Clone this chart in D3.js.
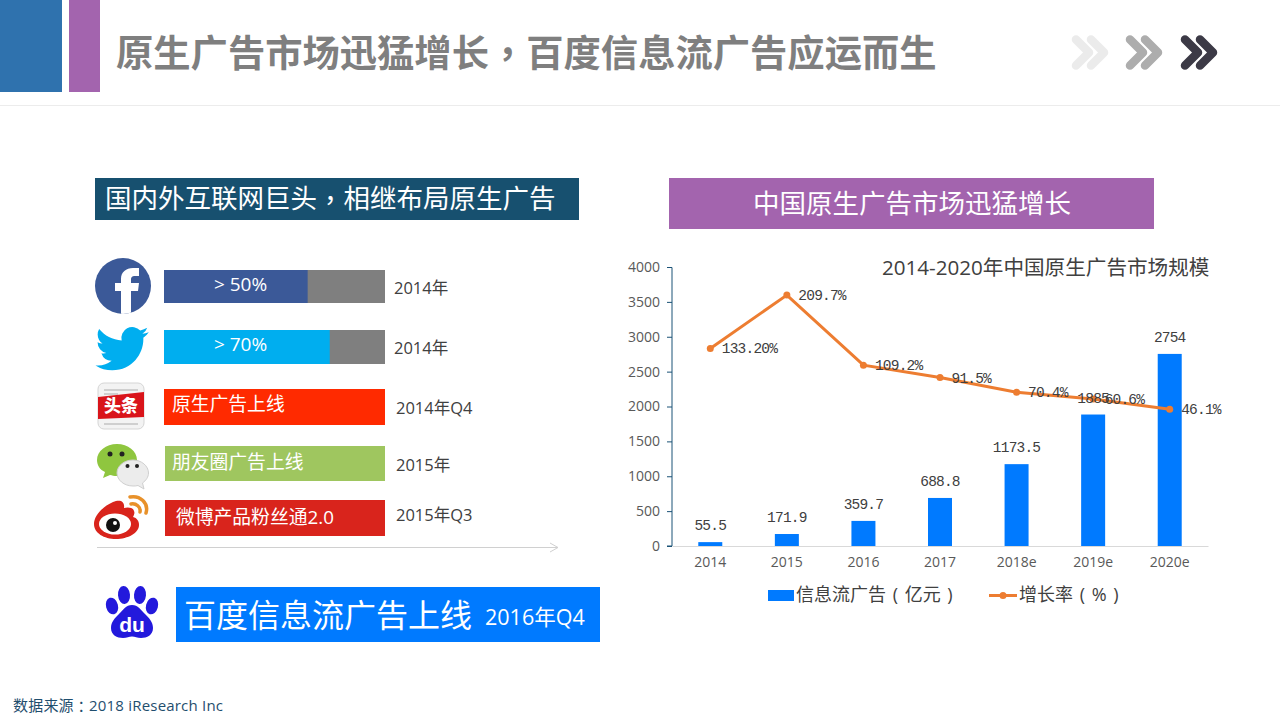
<!DOCTYPE html>
<html><head><meta charset="utf-8">
<script src="https://cdn.jsdelivr.net/npm/d3@7/dist/d3.min.js"></script>
<style>html,body{margin:0;padding:0;background:#fff;overflow:hidden}svg{display:block}svg{font-family:"Open Sans","Noto Sans CJK SC",sans-serif}</style>
</head><body><svg id="c" width="1280" height="720"></svg>
<script>
const years=["2014","2015","2016","2017","2018e","2019e","2020e"];
const market=[55.5,171.9,359.7,688.8,1173.5,1885,2754];
const marketLabels=["55.5","171.9","359.7","688.8","1173.5","1885","2754"];
const growth=[133.2,209.7,109.2,91.5,70.4,60.6,46.1];
const growthLabels=["133.20%","209.7%","109.2%","91.5%","70.4%","60.6%","46.1%"];
const leftTicks=[0,500,1000,1500,2000,2500,3000,3500,4000];
const rowTexts=["> 50%","> 70%","原生广告上线","朋友圈广告上线","微博产品粉丝通2.0"];
const rowDates=["2014年","2014年","2014年Q4","2015年","2015年Q3"];
const rowFill=[65,75,100,100,100];

const svg=d3.select("#c");
const T=(x,y,s,size,fill,opts={})=>{
  const t=svg.append("text").attr("x",x).attr("y",y).attr("font-size",size).attr("fill",fill).attr("dominant-baseline","central");
  Object.entries(opts).forEach(([k,v])=>t.style(k,v));
  s.split(/([，：])/).filter(p=>p).forEach(p=>{
    const sp=t.append("tspan").text(p);
    if(/[，：]/.test(p)) sp.style("font-family",'"Noto Sans CJK TC"');
  });
  return t;};
const R=(x,y,w,h,f)=>svg.append("rect").attr("x",x).attr("y",y).attr("width",w).attr("height",h).attr("fill",f);

// header
R(0,0,62,92,"#2f72ae");R(69,0,31,92,"#a364ae");
svg.append("line").attr("x1",0).attr("x2",1280).attr("y1",105.5).attr("y2",105.5).attr("stroke","#ececec");
T(116,52,"原生广告市场迅猛增长，百度信息流广告应运而生",37.3,"#7f7f7f",{"font-weight":700});
[[1076,"#ebebeb"],[1130,"#adadad"],[1185,"#3c3a46"]].forEach(([x,c])=>{[0,15].forEach(d=>{
  svg.append("path").attr("d",`M${x+d},39.5L${x+d+13},52.500L${x+d},65.500`).attr("fill","none").attr("stroke",c).attr("stroke-width",8.500).attr("stroke-linecap","round").attr("stroke-linejoin","round");});});

// section headings
R(95,178,484,42,"#17506f");
T(105,198,"国内外互联网巨头，相继布局原生广告",26.5,"#fff");
R(669,178,485,51,"#a364ae");
T(753,203,"中国原生广告市场迅猛增长",26.5,"#fff");

// left rows
const rowY=[270,330,389,446,500],rowH=[33,34,36,35,36],rowX=[164,164,164,165,165];
const rowC=["#3b5998","#00aeef","#ff2a00","#9fc65f","#d9241c"];
const dateX=[394,394,396,396,396],dateY=[287,347,407,464,514];
const fillScale=d3.scaleLinear().domain([0,100]).range([0,221]);
rowTexts.forEach((s,i)=>{
  R(rowX[i],rowY[i],385-rowX[i],rowH[i],"#7f7f7f");
  R(rowX[i],rowY[i],fillScale(rowFill[i])-(rowX[i]-164),rowH[i],rowC[i]);
  if(i<2) T(240.5,rowY[i]+(i?14:13.5),s,19,"#fff",{"text-anchor":"middle"});
  else T(i==4?176:172,[404,462,517][i-2],s,18.8,"#fff");
  T(dateX[i],dateY[i],rowDates[i],16.5,"#404040");
});
svg.append("path").attr("d","M97,547.5H558M550,543L558,547.5L550,552").attr("fill","none").attr("stroke","#d0d0d0");

// icons
svg.append("clipPath").attr("id","fb").append("circle").attr("cx",123).attr("cy",286).attr("r",28);
svg.append("circle").attr("cx",123).attr("cy",286).attr("r",28).attr("fill","#3b5998");
svg.append("path").attr("clip-path","url(#fb)").attr("fill","#fff").attr("d","M121,316V291H115V283H121V279C121,272 126,268 133,268H139V276H135C132,276 131,277 131,280V283H139L138,291H131V316Z");
svg.append("path").attr("transform","translate(95.5,322) scale(2.22)").attr("fill","#00aeef").attr("d","M23.953 4.57a10 10 0 01-2.825.775 4.958 4.958 0 002.163-2.723c-.951.555-2.005.959-3.127 1.184a4.92 4.92 0 00-8.384 4.482C7.69 8.095 4.067 6.13 1.64 3.162a4.822 4.822 0 00-.666 2.475c0 1.71.87 3.213 2.188 4.096a4.904 4.904 0 01-2.228-.616v.06a4.923 4.923 0 003.946 4.827 4.996 4.996 0 01-2.212.085 4.936 4.936 0 004.604 3.417 9.867 9.867 0 01-6.102 2.105c-.39 0-.779-.023-1.17-.067a13.995 13.995 0 007.557 2.209c9.053 0 13.998-7.496 13.998-13.985 0-.21 0-.42-.015-.63A9.935 9.935 0 0024 4.59z");
// toutiao
svg.append("rect").attr("x",98).attr("y",383).attr("width",46).attr("height",46).attr("rx",6).attr("fill","#f3f3f3").attr("stroke","#d5d5d5");
[[104,389,34],[104,393,14],[104,423,34]].forEach(d=>R(d[0],d[1],d[2],2,"#cfcfcf"));
svg.append("path").attr("d","M98,397L144,392V417L98,419Z").attr("fill","#d9141a");
T(121,405,"头条",17,"#fff",{"text-anchor":"middle","font-weight":900});
// wechat
svg.append("path").attr("fill","#8fc63f").attr("d","M117,444c-11,0-20,7-20,16c0,5 3,10 8,12l-2,6l7-3c2,.5 4,1 7,1c11,0 20-7 20-16s-9-16-20-16z");
svg.append("path").attr("fill","#ececec").attr("stroke","#cfcfcf").attr("d","M133,460c-9,0-16,6-16,13s7,13 16,13c2,0 3,0 5-.5l6,3.5l-1.500-6c3.500-2.500 6-6 6-10c0-7-7-13-15.500-13z");
[[110,454,2.500,"#222"],[122,454,2.500,"#222"],[127.500,466,2,"#222"],[137,466,2,"#222"]].forEach(d=>svg.append("circle").attr("cx",d[0]).attr("cy",d[1]).attr("r",d[2]).attr("fill",d[3]));
// weibo
svg.append("path").attr("fill","#d9241c").attr("d","M94,524c0-8 8-17 19-22c7-3 12-1 11,6c3-1 9-1 10,3c1,2 0,4-1,6c4,1 6,4 6,8c0,8-11,14-23,14c-12,0-22-6-22-15z");
svg.append("ellipse").attr("cx",115).attr("cy",524).attr("rx",16).attr("ry",10.500).attr("fill","#fff");
svg.append("circle").attr("cx",113).attr("cy",525).attr("r",7).attr("fill","#111");
svg.append("circle").attr("cx",115).attr("cy",523).attr("r",2).attr("fill","#fff");
svg.append("path").attr("fill","none").attr("stroke","#e8912a").attr("stroke-width",3.500).attr("stroke-linecap","round").attr("d","M130,497C140,495 149,503 146,513M131,504C136,503 141,507 140,512");
// baidu
const pc="#2319dc";
[[112,606,6,8.500,-15],[124,595,6,9,-5],[140,595,6,9,5],[152,606,6,8.500,15]].forEach(d=>svg.append("ellipse").attr("cx",d[0]).attr("cy",d[1]).attr("rx",d[2]).attr("ry",d[3]).attr("transform",`rotate(${d[4]} ${d[0]} ${d[1]})`).attr("fill",pc));
svg.append("path").attr("fill",pc).attr("d","M132,605c6,0 9,5 13,9c4,4 8,8 8,14c0,7-6,10-12,10c-4,0-6-1.500-9-1.500s-5,1.500-9,1.500c-6,0-12-3-12-10c0-6 4-10 8-14c4-4 7-9 13-9z");
T(132,624,"du",21,"#fff",{"text-anchor":"middle","font-weight":700,"font-family":"Liberation Sans"});
R(176,587,424,55,"#007aff");
T(184,613.5,"百度信息流广告上线",32,"#fff");
T(485,616,"2016年Q4",21.5,"#fff");
T(13,704.5,"数据来源：2018 iResearch Inc",15,"#1f4e6e",{"letter-spacing":"0.2px"});

// chart
const x=d3.scaleBand().domain(years).range([672,1208]);
const y=d3.scaleLinear().domain([0,4000]).range([546,267]);
const y2=d3.scaleLinear().domain([-150,250]).range([546,267]);
const barW=24;
svg.selectAll(".bar").data(market).enter().append("rect").attr("class","bar")
  .attr("x",(d,i)=>x(years[i])+x.bandwidth()/2-barW/2).attr("y",d=>y(d)).attr("width",barW).attr("height",d=>y(0)-y(d)).attr("fill","#007aff");
const ax=svg.append("g").attr("transform","translate(0,546)").call(d3.axisBottom(x).tickSize(0).tickPadding(11));
ax.select(".domain").attr("stroke","#d9d9d9");
ax.selectAll("text").attr("font-size",14).attr("fill","#595959").style("font-family",'"Open Sans"');
const ay=svg.append("g").attr("transform","translate(672,0)").call(d3.axisLeft(y).tickValues(leftTicks).tickFormat(d3.format("d")).tickSize(5).tickPadding(7));
ay.select(".domain").attr("stroke","#1a5276").attr("d","M-5,267.500H0V546H-5");
ay.selectAll("line").attr("stroke","#1a5276");
ay.selectAll("text").attr("font-size",14).attr("fill","#595959").style("font-family",'"Open Sans"');
const line=d3.line().x((d,i)=>x(years[i])+x.bandwidth()/2).y(d=>y2(d));
svg.append("path").attr("d",line(growth)).attr("fill","none").attr("stroke","#ed7d31").attr("stroke-width",3);
svg.selectAll(".pt").data(growth).enter().append("circle").attr("cx",(d,i)=>x(years[i])+x.bandwidth()/2).attr("cy",d=>y2(d)).attr("r",3.500).attr("fill","#ed7d31");
const mono={"font-family":'"Liberation Mono"',"letter-spacing":"-0.8px"};
marketLabels.forEach((s,i)=>T(x(years[i])+x.bandwidth()/2,y(market[i])-16,s,14.500,"#404040",{"text-anchor":"middle",...mono}));
growthLabels.forEach((s,i)=>T(x(years[i])+x.bandwidth()/2+11.500,y2(growth[i])+1,s,14.500,"#404040",mono));
T(882,267,"2014-2020年中国原生广告市场规模",20.6,"#404040");
R(768,590,26,11,"#007aff");
T(796,594,"信息流广告 ( 亿元 )",18,"#404040",{"word-spacing":"2px"});
svg.append("line").attr("x1",989).attr("x2",1017).attr("y1",595.500).attr("y2",595.500).attr("stroke","#ed7d31").attr("stroke-width",3);
svg.append("circle").attr("cx",1003).attr("cy",595.500).attr("r",3.500).attr("fill","#ed7d31");
T(1019,594,"增长率 ( % )",18,"#404040",{"word-spacing":"2px"});
</script></body></html>
